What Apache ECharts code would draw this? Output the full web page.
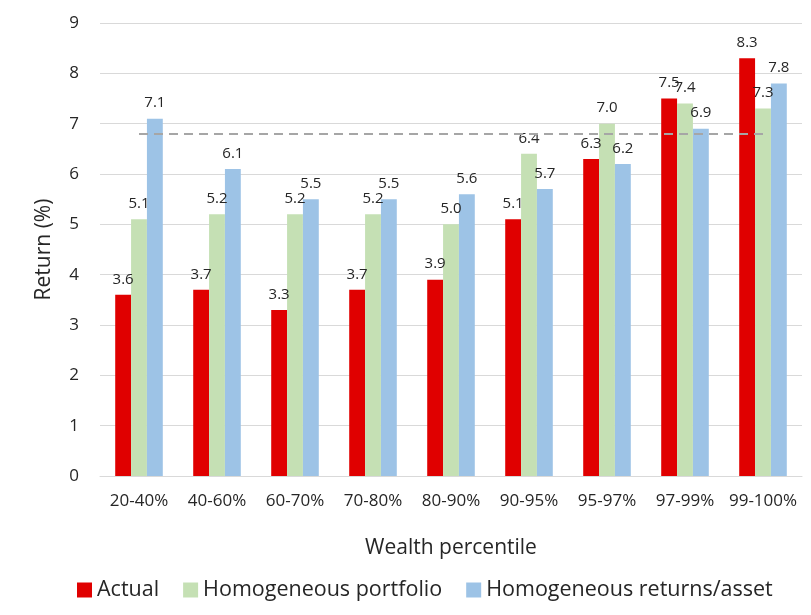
<!DOCTYPE html>
<html>
<head>
<meta charset="utf-8">
<script src="https://cdn.jsdelivr.net/npm/echarts@6/dist/echarts.min.js"></script>
<style>
  html, body { margin: 0; padding: 0; background: #fff; }
  #chart { width: 811px; height: 615px; }
</style>
</head>
<body>
<div id="chart"></div>
<script>
// wealth percentile groups
const categories = ['20-40%', '40-60%', '60-70%', '70-80%', '80-90%', '90-95%', '95-97%', '97-99%', '99-100%'];
const actual = [3.6, 3.7, 3.3, 3.7, 3.9, 5.1, 6.3, 7.5, 8.3];
const homPortfolio = [5.1, 5.2, 5.2, 5.2, 5.0, 6.4, 7.0, 7.4, 7.3];
const homReturns = [7.1, 6.1, 5.5, 5.5, 5.6, 5.7, 6.2, 6.9, 7.8];
const refLevel = 6.8; // dashed reference line
const yTicks = [0, 9, 1]; // min, max, interval

const font = 'Open Sans';
const textColor = '#262626';

let barLabel = {
  show: true,
  position: 'top',
  distance: 8,
  fontFamily: font,
  fontSize: 15,
  color: textColor,
  formatter: p => p.value.toFixed(1)
};

let chart = echarts.init(document.getElementById('chart'));
chart.setOption({
  animation: false,
  grid: { left: 100, right: 9, top: 23, bottom: 139 },
  legend: {
    bottom: 9,
    left: 72,
    icon: 'rect',
    itemWidth: 15,
    itemHeight: 15,
    itemGap: 24,
    textStyle: { fontFamily: font, fontSize: 21.5, color: textColor },
    data: ['Actual', 'Homogeneous portfolio', 'Homogeneous returns/asset']
  },
  xAxis: {
    type: 'category',
    data: categories,
    name: 'Wealth percentile',
    nameLocation: 'middle',
    nameGap: 62,
    nameTextStyle: { fontFamily: font, fontSize: 21, color: textColor },
    axisLine: { lineStyle: { color: '#d9d9d9', width: 1 } },
    axisTick: { show: false },
    axisLabel: { interval: 0, fontFamily: font, fontSize: 17, color: textColor, margin: 17 }
  },
  yAxis: {
    type: 'value',
    min: yTicks[0],
    max: yTicks[1],
    interval: yTicks[2],
    name: 'Return (%)',
    nameLocation: 'middle',
    nameGap: 45,
    nameTextStyle: { fontFamily: font, fontSize: 21, color: textColor },
    axisLine: { show: false },
    axisTick: { show: false },
    axisLabel: { fontFamily: font, fontSize: 17, color: textColor, margin: 21 },
    splitLine: { lineStyle: { color: '#d9d9d9', width: 1 } }
  },
  series: [
    {
      name: 'Actual',
      type: 'bar',
      data: actual,
      barGap: 0,
      barCategoryGap: '39%',
      itemStyle: { color: '#e00000' },
      label: barLabel
    },
    {
      name: 'Homogeneous portfolio',
      type: 'bar',
      data: homPortfolio,
      barGap: 0,
      barCategoryGap: '39%',
      itemStyle: { color: '#c5e0b4' },
      label: barLabel,
      // middle series so the line runs between category centres
      markLine: {
        silent: true,
        symbol: 'none',
        label: { show: false },
        lineStyle: { color: '#a6a6a6', type: [9, 6], width: 2 },
        data: [[
          { coord: [categories[0], refLevel] },
          { coord: [categories[categories.length - 1], refLevel] }
        ]]
      }
    },
    {
      name: 'Homogeneous returns/asset',
      type: 'bar',
      data: homReturns,
      barGap: 0,
      barCategoryGap: '39%',
      itemStyle: { color: '#9dc3e6' },
      label: barLabel
    }
  ]
});
</script>
</body>
</html>
